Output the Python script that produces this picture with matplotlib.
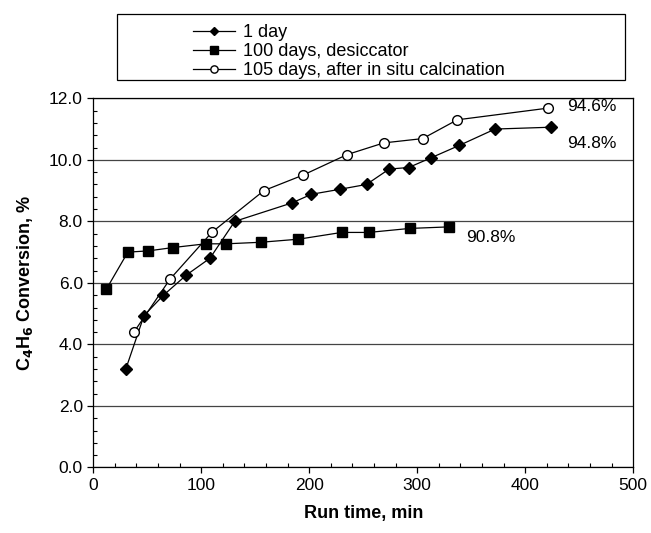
import numpy as np
from matplotlib import pyplot as plt
from matplotlib.patches import Rectangle
from matplotlib.ticker import MultipleLocator

plt.rcParams['font.family'] = ['Liberation Sans', 'DejaVu Sans']

# 1 day
t_1day = [30, 47, 65, 86, 108, 131, 184, 202, 228, 253, 274, 292, 313, 339, 372, 424]
c_1day = [3.19, 4.94, 5.6, 6.25, 6.8, 8.0, 8.6, 8.88, 9.04, 9.2, 9.7, 9.75, 10.07, 10.47, 11.0, 11.06]

# 100 days, desiccator
t_100 = [12, 32, 51, 74, 104, 123, 155, 190, 230, 255, 293, 329]
c_100 = [5.79, 7.0, 7.04, 7.15, 7.27, 7.27, 7.32, 7.42, 7.64, 7.64, 7.77, 7.82]

# 105 days, after in situ calcination
t_105 = [38, 71, 110, 158, 194, 235, 269, 305, 337, 421]
c_105 = [4.42, 6.12, 7.65, 9.0, 9.5, 10.17, 10.55, 10.69, 11.3, 11.68]

labels = ['1 day', '100 days, desiccator', '105 days, after in situ calcination']
end_labels = ['94.8%', '90.8%', '94.6%']


def main():
    fig = plt.figure(figsize=(6.51, 5.33), dpi=100)
    ax = fig.add_axes([0.1433, 0.1229, 0.8295, 0.6927])

    ax.plot(t_1day, c_1day, color='black', lw=0.9, marker='D', ms=6,
            mfc='black', mec='black', label=labels[0])
    ax.plot(t_100, c_100, color='black', lw=0.9, marker='s', ms=7,
            mfc='black', mec='black', label=labels[1])
    ax.plot(t_105, c_105, color='black', lw=0.9, marker='o', ms=7,
            mfc='white', mec='black', label=labels[2])

    # end-of-run labels
    ax.text(t_105[-1] + 18, c_105[-1] + 0.05, end_labels[2], fontsize=12.5, va='center')
    ax.text(t_1day[-1] + 15, c_1day[-1] - 0.52, end_labels[0], fontsize=12.5, va='center')
    ax.text(t_100[-1] + 16, c_100[-1] - 0.34, end_labels[1], fontsize=12.5, va='center')

    ax.set_xlim(0, 500)
    ax.set_ylim(0, 12)
    ax.xaxis.set_major_locator(MultipleLocator(100))
    ax.xaxis.set_minor_locator(MultipleLocator(20))
    ax.yaxis.set_major_locator(MultipleLocator(2))
    ax.yaxis.set_minor_locator(MultipleLocator(0.4))
    ax.yaxis.set_major_formatter(plt.FormatStrFormatter('%.1f'))
    ax.grid(axis='y', which='major', color='#444444', lw=0.9)
    ax.set_axisbelow(True)
    ax.tick_params(which='major', direction='out', length=4, width=0.9, labelsize=12.5)
    ax.tick_params(which='minor', direction='in', length=3, width=0.8)
    for s in ax.spines.values():
        s.set_linewidth(0.9)

    ax.set_xlabel('Run time, min', fontsize=13, fontweight='bold', labelpad=9)
    ax.set_ylabel('C$_\\mathbf{4}$H$_\\mathbf{6}$ Conversion, %', fontsize=13,
                  fontweight='bold', labelpad=10)

    # legend box above the axes
    fig.patches.append(Rectangle((117 / 651, 1 - 80 / 533), 508 / 651, 66 / 533,
                                 transform=fig.transFigure, fill=False,
                                 edgecolor='black', lw=0.9))
    h, l = ax.get_legend_handles_labels()
    fig.legend(h, l, loc='upper left', bbox_to_anchor=(184 / 651, 1 - 15 / 533),
               frameon=False, fontsize=13, labelspacing=0.12, handlelength=2.3,
               handletextpad=0.45, borderpad=0, markerscale=0.75)

    plt.savefig('out.png', dpi=100)


if __name__ == "__main__":
    main()
